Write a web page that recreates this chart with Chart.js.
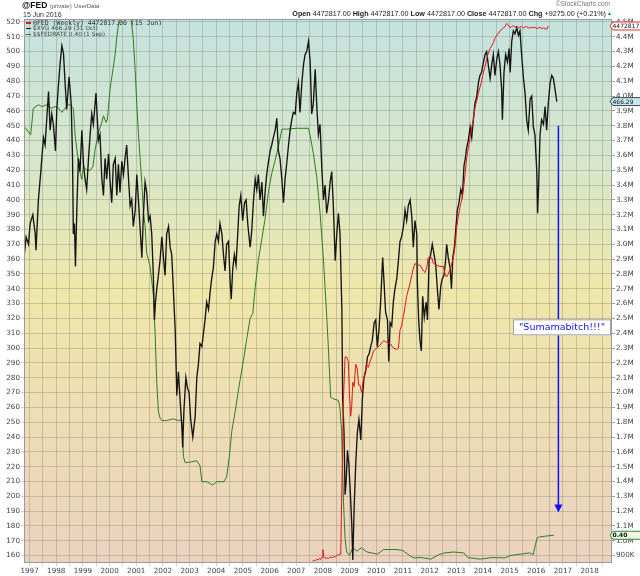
<!DOCTYPE html>
<html><head><meta charset="utf-8">
<script src="https://cdn.jsdelivr.net/npm/chart.js@4.4.1/dist/chart.umd.min.js"></script>
<style>
html,body{margin:0;padding:0;background:#fff;}
#wrap{position:relative;width:640px;height:576px;overflow:hidden;}
canvas{position:absolute;left:0;top:0;}
.t{position:absolute;white-space:nowrap;font-family:"Liberation Sans",Arial,sans-serif;color:#222;line-height:1;}
.lg{position:absolute;white-space:nowrap;line-height:1;}
.dash{display:inline-block;width:5px;height:1.5px;vertical-align:middle;margin-right:2px;}
</style></head><body>
<div id="wrap">
<canvas id="c" width="640" height="576"></canvas>
<div class="t" style="left:22px;top:1px;font-size:8.5px;font-weight:bold;color:#111">@FED <span style="font-size:6px;font-weight:normal;color:#555">(private)</span> <span style="font-size:6px;font-weight:normal;color:#555">UserData</span></div>
<div class="t" style="left:23px;top:11px;font-size:7px;color:#333">15 Jun 2016</div>
<div class="t" style="right:30px;top:1px;font-size:6.5px;color:#777">&copy;StockCharts.com</div>
<div class="t" style="right:34px;top:10px;font-size:7.2px;color:#222"><b>Open</b> 4472817.00 <b>High</b> 4472817.00 <b>Low</b> 4472817.00 <b>Close</b> 4472817.00 <b>Chg</b> +9275.00 (+0.21%)</div>
<div class="t" style="left:607px;top:11px;font-size:5px;color:#1a8a1a">&#9650;</div>
<div class="lg" style="left:26px;top:20px;font-family:'DejaVu Sans Mono',monospace;font-size:6.5px;color:#333"><span class="dash" style="background:#e8141b"></span>@FED (Weekly) 4472817.00 (15 Jun)</div>
<div class="lg" style="left:26px;top:26.3px;font-family:'DejaVu Sans',sans-serif;font-size:5.9px;color:#444"><span class="dash" style="background:#111"></span>$XVG 466.29 (31 Oct)</div>
<div class="lg" style="left:26px;top:32px;font-family:'DejaVu Sans',sans-serif;font-size:5.9px;color:#444"><span class="dash" style="background:#2f7d22"></span>$$FEDRATE 0.40 (1 Sep)</div>
</div>
<script>
// ---------------- DATA ----------------
const yearLabels = [1997,1998,1999,2000,2001,2002,2003,2004,2005,2006,2007,2008,2009,2010,2011,2012,2013,2014,2015,2016,2017,2018];
const leftTicks = [160,170,180,190,200,210,220,230,240,250,260,270,280,290,300,310,320,330,340,350,360,370,380,390,400,410,420,430,440,450,460,470,480,490,500,510,520];
const rightTicks = [0.9,1.0,1.1,1.2,1.3,1.4,1.5,1.6,1.7,1.8,1.9,2.0,2.1,2.2,2.3,2.4,2.5,2.6,2.7,2.8,2.9,3.0,3.1,3.2,3.3,3.4,3.5,3.6,3.7,3.8,3.9,4.0,4.1,4.2,4.3,4.4,4.5];

// $XVG weekly (sampled), left axis
const xvgYears = [1996.79,1996.87,1996.96,1997.02,1997.12,1997.21,1997.24,1997.33,1997.42,1997.52,1997.58,1997.71,1997.77,1997.83,1997.89,1997.97,1998.02,1998.08,1998.14,1998.21,1998.27,1998.33,1998.39,1998.48,1998.56,1998.61,1998.64,1998.68,1998.72,1998.77,1998.83,1998.89,1998.96,1999.02,1999.08,1999.14,1999.21,1999.27,1999.33,1999.39,1999.49,1999.58,1999.64,1999.71,1999.77,1999.83,1999.89,1999.96,2000.02,2000.08,2000.14,2000.21,2000.27,2000.33,2000.39,2000.46,2000.52,2000.58,2000.64,2000.71,2000.77,2000.83,2000.89,2000.96,2001.02,2001.08,2001.14,2001.21,2001.27,2001.33,2001.39,2001.46,2001.52,2001.58,2001.64,2001.68,2001.72,2001.77,2001.83,2001.89,2001.96,2002.02,2002.08,2002.14,2002.21,2002.27,2002.33,2002.39,2002.46,2002.52,2002.58,2002.64,2002.71,2002.74,2002.79,2002.86,2002.92,2002.98,2003.04,2003.12,2003.21,2003.27,2003.33,2003.39,2003.46,2003.52,2003.58,2003.64,2003.71,2003.77,2003.83,2003.89,2003.96,2004.02,2004.08,2004.14,2004.21,2004.27,2004.33,2004.39,2004.46,2004.52,2004.56,2004.62,2004.68,2004.74,2004.79,2004.86,2004.92,2004.99,2005.06,2005.12,2005.18,2005.27,2005.33,2005.39,2005.46,2005.52,2005.58,2005.64,2005.71,2005.77,2005.83,2005.89,2005.96,2006.02,2006.08,2006.14,2006.21,2006.27,2006.33,2006.39,2006.46,2006.52,2006.58,2006.64,2006.71,2006.77,2006.83,2006.89,2006.96,2007.02,2007.08,2007.14,2007.21,2007.27,2007.33,2007.39,2007.46,2007.52,2007.58,2007.64,2007.71,2007.77,2007.83,2007.89,2007.96,2008.02,2008.08,2008.14,2008.21,2008.27,2008.33,2008.39,2008.46,2008.52,2008.58,2008.64,2008.71,2008.74,2008.79,2008.83,2008.87,2008.92,2008.97,2009.02,2009.08,2009.12,2009.17,2009.23,2009.29,2009.35,2009.42,2009.48,2009.54,2009.60,2009.67,2009.73,2009.79,2009.85,2009.92,2009.98,2010.04,2010.10,2010.17,2010.24,2010.29,2010.35,2010.42,2010.47,2010.52,2010.58,2010.64,2010.70,2010.77,2010.83,2010.89,2010.95,2011.02,2011.08,2011.14,2011.20,2011.27,2011.33,2011.39,2011.45,2011.52,2011.54,2011.59,2011.64,2011.69,2011.74,2011.80,2011.87,2011.92,2011.98,2012.04,2012.10,2012.17,2012.23,2012.29,2012.35,2012.42,2012.48,2012.54,2012.60,2012.64,2012.70,2012.77,2012.82,2012.87,2012.93,2012.99,2013.04,2013.10,2013.17,2013.23,2013.29,2013.34,2013.39,2013.45,2013.52,2013.58,2013.64,2013.70,2013.77,2013.83,2013.89,2013.95,2014.02,2014.08,2014.14,2014.20,2014.27,2014.33,2014.39,2014.45,2014.52,2014.58,2014.64,2014.70,2014.73,2014.79,2014.85,2014.92,2014.98,2015.02,2015.08,2015.14,2015.20,2015.27,2015.33,2015.39,2015.45,2015.52,2015.58,2015.64,2015.70,2015.77,2015.83,2015.89,2015.95,2016.02,2016.05,2016.09,2016.14,2016.20,2016.27,2016.33,2016.39,2016.45,2016.52,2016.58,2016.64,2016.70,2016.77];
const xvgValues = [361,375,370,384,390,377,366,400,419,442,437,473,447,458,451,433,461,477,491,504,499,479,461,483,465,428,377,384,355,393,428,419,447,424,414,407,428,444,458,451,472,440,444,414,403,428,414,431,412,398,424,428,403,424,405,426,417,428,437,414,396,400,382,393,417,400,382,361,391,412,405,386,389,377,349,319,331,340,349,359,375,361,349,377,382,368,363,340,312,268,284,266,247,233,259,280,273,270,252,240,254,280,289,303,301,310,319,331,326,338,347,354,372,377,372,384,377,363,352,370,372,345,333,354,363,356,372,396,403,386,398,400,384,368,379,398,414,407,417,400,412,389,405,417,426,433,437,442,447,455,433,428,414,398,414,424,437,447,454,459,458,472,479,459,479,491,498,500,507,493,458,465,488,463,444,451,421,400,410,391,400,412,419,396,359,377,391,377,326,266,243,201,210,231,222,205,182,157,192,222,243,252,238,266,280,284,294,296,301,305,317,319,301,312,333,361,345,324,319,291,317,315,331,340,347,359,372,375,382,393,386,396,400,389,368,386,377,345,319,305,298,335,321,331,319,359,363,370,363,356,340,326,342,347,349,359,370,361,354,340,361,368,382,393,398,407,403,423,428,435,440,449,442,454,465,470,479,484,486,493,498,500,491,482,491,498,484,495,500,491,475,454,486,498,493,502,486,507,514,512,516,511,514,498,482,472,454,447,468,470,449,444,419,391,410,444,454,451,463,447,465,479,484,482,475,466.29];

// @FED weekly balance sheet, right axis (millions)
const fedYears = [2007.62,2007.67,2007.72,2007.77,2007.82,2007.87,2007.92,2007.97,2008.00,2008.03,2008.08,2008.14,2008.20,2008.27,2008.33,2008.40,2008.46,2008.52,2008.58,2008.64,2008.67,2008.70,2008.77,2008.83,2008.89,2008.95,2008.99,2009.04,2009.08,2009.12,2009.17,2009.23,2009.29,2009.34,2009.39,2009.45,2009.52,2009.58,2009.64,2009.70,2009.77,2009.83,2009.89,2010.02,2010.14,2010.27,2010.39,2010.52,2010.64,2010.77,2010.83,2010.89,2010.95,2011.02,2011.08,2011.14,2011.27,2011.39,2011.45,2011.52,2011.64,2011.77,2011.83,2011.89,2011.95,2012.08,2012.14,2012.27,2012.39,2012.52,2012.58,2012.64,2012.70,2012.77,2012.83,2012.89,2012.95,2013.02,2013.08,2013.14,2013.20,2013.27,2013.33,2013.39,2013.45,2013.52,2013.58,2013.64,2013.70,2013.77,2013.83,2013.89,2013.95,2014.02,2014.08,2014.14,2014.20,2014.27,2014.33,2014.39,2014.45,2014.52,2014.64,2014.77,2014.83,2014.89,2014.95,2015.02,2015.08,2015.14,2015.20,2015.27,2015.33,2015.39,2015.45,2015.52,2015.58,2015.64,2015.70,2015.77,2015.83,2015.89,2015.95,2016.02,2016.08,2016.14,2016.20,2016.27,2016.33,2016.39,2016.45];
const fedValues = [0.86,0.87,0.865,0.875,0.87,0.88,0.875,0.89,0.94,0.89,0.88,0.885,0.88,0.89,0.885,0.895,0.89,0.90,0.905,0.91,0.93,1.26,1.96,2.24,2.24,2.21,2.01,1.84,1.91,2.07,2.04,2.19,2.16,2.05,2.05,2.00,2.09,2.14,2.19,2.17,2.21,2.24,2.28,2.30,2.32,2.35,2.34,2.33,2.30,2.29,2.30,2.42,2.45,2.52,2.58,2.65,2.74,2.84,2.87,2.86,2.86,2.82,2.81,2.84,2.91,2.91,2.87,2.86,2.85,2.85,2.80,2.78,2.80,2.83,2.87,2.91,2.98,3.12,3.19,3.25,3.30,3.37,3.47,3.58,3.65,3.72,3.79,3.84,3.92,3.97,4.02,4.06,4.10,4.16,4.20,4.25,4.29,4.32,4.34,4.36,4.39,4.41,4.44,4.46,4.47,4.49,4.48,4.46,4.47,4.475,4.465,4.47,4.46,4.465,4.47,4.46,4.465,4.47,4.46,4.46,4.465,4.46,4.465,4.455,4.46,4.465,4.455,4.46,4.455,4.45,4.472817];

// $$FEDRATE (percent), hidden overlay axis
const rateYears = [1996.79,1996.83,1997.04,1997.14,1997.33,1997.46,1997.64,1997.83,1997.96,1998.08,1998.21,1998.33,1998.46,1998.58,1998.64,1998.71,1998.77,1998.87,1998.96,1999.02,1999.14,1999.27,1999.37,1999.46,1999.58,1999.71,1999.77,1999.87,1999.92,2000.02,2000.14,2000.21,2000.27,2000.36,2000.46,2000.58,2000.71,2000.81,2000.89,2000.96,2001.02,2001.08,2001.14,2001.21,2001.27,2001.33,2001.39,2001.52,2001.64,2001.71,2001.77,2001.83,2001.89,2001.96,2002.14,2002.39,2002.58,2002.71,2002.74,2002.77,2002.83,2002.96,2003.27,2003.39,2003.46,2003.64,2003.87,2004.02,2004.29,2004.39,2004.49,2004.58,2004.71,2004.89,2005.02,2005.14,2005.27,2005.37,2005.46,2005.58,2005.71,2005.83,2005.96,2006.08,2006.21,2006.33,2006.46,2006.64,2007.02,2007.46,2007.52,2007.64,2007.77,2007.89,2008.02,2008.14,2008.20,2008.29,2008.39,2008.58,2008.64,2008.70,2008.77,2008.83,2008.89,2008.99,2009.12,2009.28,2009.43,2009.66,2009.82,2010.04,2010.28,2010.74,2010.97,2011.12,2011.28,2011.43,2011.66,2012.05,2012.35,2012.58,2012.89,2013.28,2013.43,2013.89,2014.35,2014.81,2015.05,2015.43,2015.74,2015.89,2015.97,2016.04,2016.12,2016.35,2016.66];
const rateValues = [5.29,5.27,5.18,5.50,5.54,5.52,5.54,5.50,5.52,5.50,5.45,5.50,5.55,5.52,5.50,5.17,5.01,4.76,4.65,4.80,4.76,4.76,4.80,5.01,5.21,5.33,5.41,5.33,5.37,5.74,5.99,6.15,6.35,6.56,6.62,6.62,6.60,6.56,6.32,5.95,5.54,5.20,4.92,4.60,4.26,4.10,3.77,3.61,3.27,2.79,2.21,1.88,1.80,1.77,1.77,1.79,1.77,1.78,1.56,1.34,1.27,1.27,1.29,1.23,1.04,1.04,1.00,1.04,1.04,1.10,1.34,1.64,1.88,2.25,2.49,2.74,2.99,3.05,3.36,3.69,3.94,4.18,4.51,4.72,4.88,5.04,5.25,5.25,5.26,5.26,5.17,4.96,4.67,4.26,3.69,3.03,2.66,2.05,2.03,2.01,1.92,1.64,0.81,0.36,0.20,0.16,0.25,0.21,0.25,0.20,0.19,0.175,0.23,0.23,0.22,0.19,0.15,0.13,0.135,0.115,0.17,0.19,0.20,0.19,0.135,0.115,0.135,0.13,0.16,0.175,0.19,0.17,0.29,0.37,0.38,0.39,0.40];

// annotation
const noteText = '"Sumamabitch!!!"';
const noteArrow = {x: 2016.83, yFrom: 450, yTo: 189, boxAt: 314};

// ---------------- CHART ----------------
function pts(xs, ys){ return xs.map((x,i)=>({x:x, y:ys[i]})); }
const halfYears = [];
yearLabels.forEach(y=>{ halfYears.push(y); halfYears.push(y+0.5); });

const GRID = 'rgba(115,122,105,0.33)';
const LBL = '#444';
Chart.defaults.font.family = '"DejaVu Sans", sans-serif';
Chart.defaults.font.size = 7.2;

const bgPlugin = {
  id:'bg',
  beforeDraw(chart){
    const {ctx, chartArea:a} = chart;
    const g = ctx.createLinearGradient(0,a.top,0,a.bottom);
    g.addColorStop(0,'#c4e2de');
    g.addColorStop(0.25,'#d6e6cc');
    g.addColorStop(0.5,'#efe7aa');
    g.addColorStop(0.75,'#eedcb5');
    g.addColorStop(1,'#ebd2bf');
    ctx.save(); ctx.fillStyle=g; ctx.fillRect(a.left,a.top,a.right-a.left,a.bottom-a.top); ctx.restore();
  },
  afterDatasetsDraw(chart){
    const {ctx, chartArea:a} = chart;
    ctx.save(); ctx.strokeStyle='#9a9a9a'; ctx.lineWidth=1;
    ctx.strokeRect(a.left+0.5,a.top+0.5,a.right-a.left-1,a.bottom-a.top-1); ctx.restore();
  }
};

function tag(ctx, x, y, text, stroke, fill, bold){
  const h=8, w=31;
  ctx.beginPath();
  ctx.moveTo(x,y); ctx.lineTo(x+3,y-h/2); ctx.lineTo(x+w,y-h/2); ctx.lineTo(x+w,y+h/2); ctx.lineTo(x+3,y+h/2); ctx.closePath();
  ctx.fillStyle=fill; ctx.fill(); ctx.strokeStyle=stroke; ctx.lineWidth=1; ctx.stroke();
  ctx.fillStyle='#111'; ctx.font=(bold?'bold ':'')+'6px "DejaVu Sans"'; ctx.textAlign='left'; ctx.textBaseline='middle';
  ctx.fillText(text, x+2.5, y+0.5);
}

const tagPlugin = {
  id:'tags',
  afterDraw(chart){
    const {ctx, scales} = chart;
    const a = chart.chartArea;
    ctx.save();
    // annotation arrow
    const ax = scales.x.getPixelForValue(noteArrow.x);
    const y1 = scales.y.getPixelForValue(noteArrow.yFrom);
    const y2 = scales.y.getPixelForValue(noteArrow.yTo);
    ctx.strokeStyle='#1010ff'; ctx.lineWidth=1.5;
    ctx.beginPath(); ctx.moveTo(ax,y1); ctx.lineTo(ax,y2-7); ctx.stroke();
    ctx.fillStyle='#1010ff';
    ctx.beginPath(); ctx.moveTo(ax-4,y2-8); ctx.lineTo(ax+4,y2-8); ctx.lineTo(ax,y2); ctx.closePath(); ctx.fill();
    // note box
    ctx.font='9.5px "DejaVu Sans"';
    const tw = ctx.measureText(noteText).width;
    const bw = tw + 12;
    const bx = a.right-1-bw, by = scales.y.getPixelForValue(noteArrow.boxAt);
    ctx.fillStyle='#fff'; ctx.fillRect(bx,by-8,bw,16);
    ctx.strokeStyle='#a0a0a0'; ctx.lineWidth=1; ctx.strokeRect(bx+0.5,by-7.5,bw-1,15);
    ctx.fillStyle='#1414e6'; ctx.textAlign='left'; ctx.textBaseline='middle';
    ctx.fillText(noteText, bx+6, by+0.5);
    // value tags
    const xr = a.right-2;
    const fLast = fedValues[fedValues.length-1];
    tag(ctx, xr, scales.y2.getPixelForValue(fLast), String(Math.round(fLast*1e6)), '#e03030', '#ffffff', false);
    const xLast = xvgValues[xvgValues.length-1];
    tag(ctx, xr, scales.y.getPixelForValue(xLast), xLast.toFixed(2), '#444', '#c3e8ef', false);
    const rLast = rateValues[rateValues.length-1];
    tag(ctx, xr, scales.y3.getPixelForValue(rLast), rLast.toFixed(2), '#2f8a2f', '#eef6e6', true);
    ctx.restore();
  }
};

new Chart(document.getElementById('c'), {
  type:'line',
  data:{ datasets:[
    {label:'@FED (Weekly)', data:pts(fedYears,fedValues), yAxisID:'y2', borderColor:'#e8141b', borderWidth:1, pointRadius:0, tension:0, order:1},
    {label:'$XVG', data:pts(xvgYears,xvgValues), yAxisID:'y', borderColor:'#151515', borderWidth:1.35, pointRadius:0, tension:0, order:2},
    {label:'$$FEDRATE', data:pts(rateYears,rateValues), yAxisID:'y3', borderColor:'#2f7d22', borderWidth:1, pointRadius:0, tension:0, order:3}
  ]},
  options:{
    responsive:false, animation:false, events:[],
    layout:{padding:{top:19,left:0,right:0,bottom:0}},
    plugins:{legend:{display:false}, tooltip:{enabled:false}},
    scales:{
      x:{type:'linear', min:1996.79, max:2018.84, position:'bottom',
        afterBuildTicks(ax){ ax.ticks = halfYears.map(v=>({value:v})); },
        afterFit(ax){ ax.height = 13; },
        ticks:{autoSkip:false, maxRotation:0, color:LBL, padding:1, callback:(v)=> Number.isInteger(v)? String(v):''},
        grid:{color:GRID, tickLength:3, lineWidth:1}, border:{display:false}},
      y:{type:'linear', position:'left', min:155, max:522,
        afterBuildTicks(ax){ ax.ticks = leftTicks.map(v=>({value:v})); },
        afterFit(ax){ ax.width = 24; },
        ticks:{color:LBL, padding:1, callback:(v)=>String(v)},
        grid:{color:GRID, tickLength:3, lineWidth:1}, border:{display:false}},
      y2:{type:'linear', position:'right', min:0.85, max:4.52,
        afterBuildTicks(ax){ ax.ticks = rightTicks.map(v=>({value:v})); },
        afterFit(ax){ ax.width = 28; },
        ticks:{color:LBL, padding:1, callback:(v)=> v<0.95 ? Math.round(v*1000)+'K' : v.toFixed(1)+'M'},
        grid:{drawOnChartArea:false, color:'#999', tickLength:3}, border:{display:false}},
      y3:{type:'linear', display:false, min:0.069, max:6.565}
    }
  },
  plugins:[bgPlugin, tagPlugin]
});
</script>
</body></html>
